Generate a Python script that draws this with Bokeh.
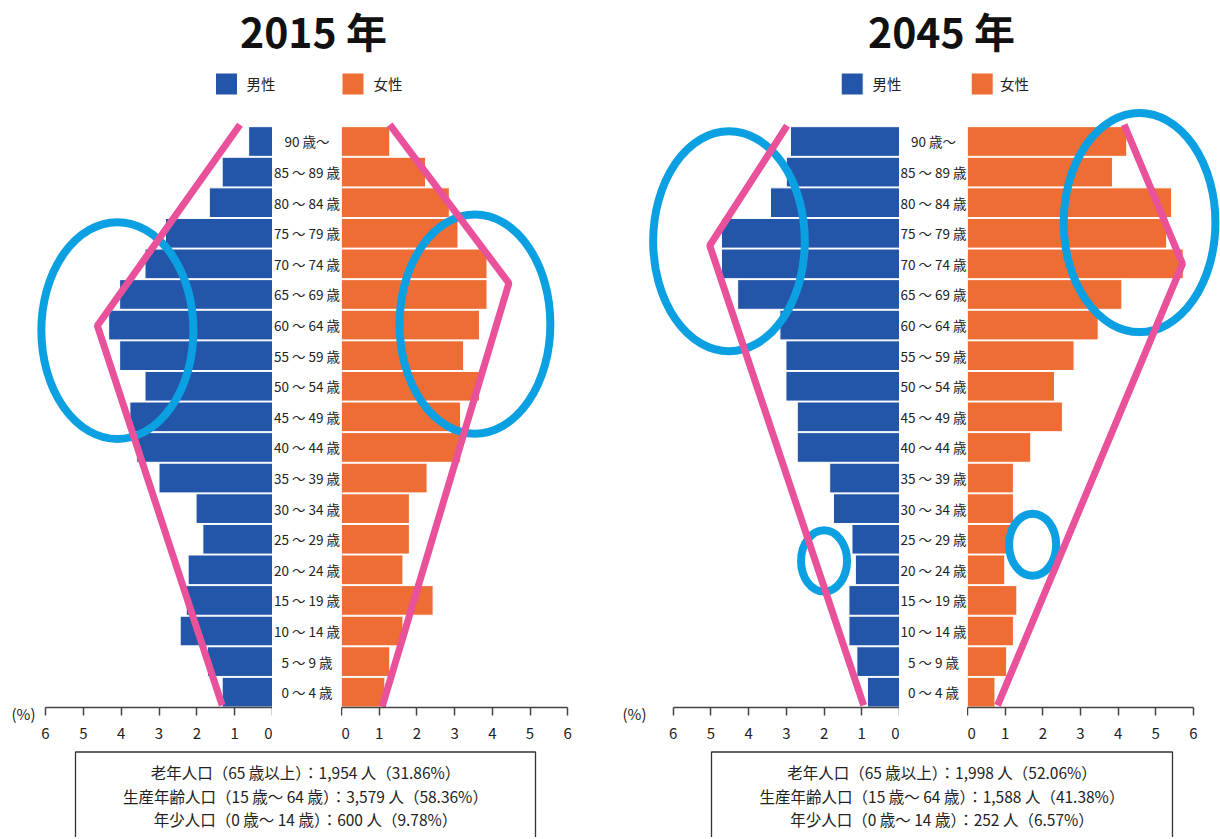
from bokeh.plotting import figure
from bokeh.models import Range1d, FixedTicker, LinearAxis
from bokeh.layouts import column, row
from bokeh.embed import file_html
from bokeh.resources import INLINE
from bokeh.core.properties import value

FONT = "Noto Sans CJK JP"

# ---------------- data (index 0 = 0~4 歳 ... 18 = 90 歳～) ----------------
ages = ["0 ～ 4 歳", "5 ～ 9 歳", "10 ～ 14 歳", "15 ～ 19 歳", "20 ～ 24 歳",
        "25 ～ 29 歳", "30 ～ 34 歳", "35 ～ 39 歳", "40 ～ 44 歳", "45 ～ 49 歳",
        "50 ～ 54 歳", "55 ～ 59 歳", "60 ～ 64 歳", "65 ～ 69 歳", "70 ～ 74 歳",
        "75 ～ 79 歳", "80 ～ 84 歳", "85 ～ 89 歳", "90 歳～"]

male_2015 = [1.33, 1.72, 2.44, 2.28, 2.23, 1.84, 2.02, 3.00, 3.59, 3.77,
             3.37, 4.04, 4.33, 4.04, 3.37, 2.83, 1.67, 1.33, 0.63]
female_2015 = [1.15, 1.28, 1.63, 2.43, 1.63, 1.80, 1.80, 2.27, 3.16, 3.16,
               3.66, 3.24, 3.66, 3.86, 3.86, 3.09, 2.86, 2.23, 1.28]
male_2045 = [0.85, 1.13, 1.34, 1.34, 1.17, 1.26, 1.75, 1.85, 2.71, 2.71,
             3.01, 3.01, 3.17, 4.29, 4.72, 4.72, 3.42, 3.00, 2.89]
female_2045 = [0.73, 1.04, 1.22, 1.31, 0.99, 1.15, 1.22, 1.22, 1.68, 2.52,
               2.31, 2.83, 3.47, 4.10, 5.73, 5.29, 5.42, 3.85, 4.23]

axis_ticks = [0, 1, 2, 3, 4, 5, 6]
unit_label = "(%)"
years = ["2015 年", "2045 年"]
legend_labels = ["男性", "女性"]

summary_2015 = ["老年人口（65 歳以上）：1,954 人（31.86%）",
                "生産年齢人口（15 歳～ 64 歳）：3,579 人（58.36%）",
                "年少人口（0 歳～ 14 歳）：600 人（9.78%）"]
summary_2045 = ["老年人口（65 歳以上）：1,998 人（52.06%）",
                "生産年齢人口（15 歳～ 64 歳）：1,588 人（41.38%）",
                "年少人口（0 歳～ 14 歳）：252 人（6.57%）"]

# annotation overlays (pink outline: x in %, y in age-row units)
pink_2015_m_x = [0.86, 4.63, 1.33]
pink_2015_m_y = [18.55, 11.98, -0.43]
pink_2015_f_x = [1.28, 4.44, 1.08]
pink_2015_f_y = [18.55, 13.37, -0.47]
pink_2045_m_x = [2.98, 5.03, 0.95]
pink_2045_m_y = [18.52, 14.6, -0.43]
pink_2045_f_x = [4.16, 5.71, 0.80]
pink_2045_f_y = [18.55, 14.0, -0.43]

# blue rings: x, y, width, height
rings_2015_m = [[4.10], [11.82], [4.02], [7.09]]
rings_2015_f = [[3.54], [12.03], [4.00], [7.16]]
rings_2045_m = [[4.52, 2.00], [14.74, 4.29], [4.02, 1.22], [7.19, 2.00]]
rings_2045_f = [[4.57, 1.73], [15.35, 4.82], [4.03, 1.25], [7.16, 2.03]]

BLUE = "#2356A8"
ORANGE = "#ED6D35"
PINK = "#E9519B"
RING = "#0BA0E2"
TXT = "#222222"

Y_RANGE = (-0.5, 19.34)
UNIT_TICK = -0.30
PLOT_H = 650
BOTTOM = 43


def side(width, xr, vals, color, pink_x, pink_y, rings, left_border=0):
    p = figure(width=width, height=PLOT_H, x_range=Range1d(*xr),
               y_range=Range1d(*Y_RANGE), output_backend="svg",
               toolbar_location=None, y_axis_location=None,
               min_border_left=left_border, min_border_right=0,
               min_border_top=0, min_border_bottom=BOTTOM)
    p.outline_line_color = None
    p.grid.visible = False
    p.hbar(y=list(range(len(vals))), left=0, right=vals, height=0.97,
           fill_color=color, line_color="white", line_width=1)
    ax = p.xaxis[0]
    ax.ticker = FixedTicker(ticks=axis_ticks)
    ax.bounds = (0, 6)
    ax.minor_tick_line_color = None
    ax.major_tick_in = 0
    ax.major_tick_out = 8
    ax.major_label_standoff = 12
    ax.axis_line_color = "#444444"
    ax.axis_line_width = 1.5
    ax.major_tick_line_color = "#444444"
    ax.major_tick_line_width = 1.5
    ax.major_label_text_font = FONT
    ax.major_label_text_font_size = "15px"
    ax.major_label_text_color = TXT
    p.ellipse(x=rings[0], y=rings[1], width=rings[2], height=rings[3],
              fill_color=None, line_color=RING, line_width=8)
    p.line(pink_x, pink_y, line_color=PINK, line_width=7)
    if left_border:
        # unit label "(%)" shown as the single tick label of a bare left axis
        yax = LinearAxis(ticker=FixedTicker(ticks=[UNIT_TICK]),
                         major_label_overrides={UNIT_TICK: "\n" + unit_label},
                         axis_line_color=None, major_tick_line_color=None,
                         minor_tick_line_color=None, major_label_standoff=1,
                         major_tick_out=0, major_tick_in=0,
                         major_label_text_font=FONT,
                         major_label_text_font_size="15px",
                         major_label_text_color=TXT)
        p.add_layout(yax, "left")
    return p


def labels(width):
    p = figure(width=width, height=PLOT_H, x_range=Range1d(0, 1),
               y_range=Range1d(*Y_RANGE), output_backend="svg",
               toolbar_location=None, x_axis_location=None,
               y_axis_location=None, min_border_left=0, min_border_right=0,
               min_border_top=0, min_border_bottom=BOTTOM)
    p.outline_line_color = None
    p.grid.visible = False
    p.text(x=[0.5] * len(ages), y=list(range(len(ages))), text=ages,
           text_align="center", text_baseline="middle",
           text_font=value(FONT), text_font_size="13.5px", text_color=TXT)
    return p


m15 = side(272, (6.238, 0), male_2015, BLUE, pink_2015_m_x, pink_2015_m_y,
           rings_2015_m, left_border=36)
l15 = labels(69)
f15 = side(269, (0, 7.135), female_2015, ORANGE, pink_2015_f_x,
           pink_2015_f_y, rings_2015_f)
m45 = side(289, (6.68, 0), male_2045, BLUE, pink_2045_m_x, pink_2045_m_y,
           rings_2045_m, left_border=37)
l45 = labels(68)
f45 = side(253, (0, 6.72), female_2045, ORANGE, pink_2045_f_x,
           pink_2045_f_y, rings_2045_f)

# ---------------- header ----------------
hdr = figure(width=1220, height=100, x_range=Range1d(0, 1220),
             y_range=Range1d(100, 0), output_backend="svg",
             toolbar_location=None, x_axis_location=None,
             y_axis_location=None, min_border=0)
hdr.outline_line_color = None
hdr.grid.visible = False
hdr.text(x=[313, 941], y=[29.5, 29.5], text=years, text_align="center",
         text_baseline="middle", text_font=value(FONT),
         text_font_style="bold", text_font_size="41px", text_color="#111111")
hdr.rect(x=[226, 352.5, 851.7, 981.7], y=[83.5] * 4, width=22, height=22,
         fill_color=[BLUE, ORANGE, BLUE, ORANGE], line_color="white",
         line_width=1)
hdr.text(x=[246, 373, 872, 999.5], y=[83] * 4,
         text=legend_labels + legend_labels, text_align="left",
         text_baseline="middle", text_font=value(FONT),
         text_font_size="14.5px", text_color=TXT)

# ---------------- footer ----------------
ftr = figure(width=1220, height=87, x_range=Range1d(0, 1220),
             y_range=Range1d(837, 750), output_backend="svg",
             toolbar_location=None, x_axis_location=None,
             y_axis_location=None, min_border=0)
ftr.outline_line_color = None
ftr.grid.visible = False
for (x0, x1) in [(75, 535), (711, 1172)]:
    ftr.line([x0, x0, x1, x1], [837, 751.5, 751.5, 837],
             line_color="#333333", line_width=1.3)
ftr.text(x=[305] * 3, y=[771, 795, 818.5], text=summary_2015,
         text_align="center", text_baseline="middle",
         text_font=value(FONT), text_font_size="15.5px", text_color=TXT)
ftr.text(x=[941.5] * 3, y=[771, 795, 818.5], text=summary_2045,
         text_align="center", text_baseline="middle",
         text_font=value(FONT), text_font_size="15.5px", text_color=TXT)

layout = column(hdr, row(m15, l15, f15, m45, l45, f45, spacing=0), ftr,
                spacing=0)

open("out.html", "w").write(file_html(layout, INLINE))
